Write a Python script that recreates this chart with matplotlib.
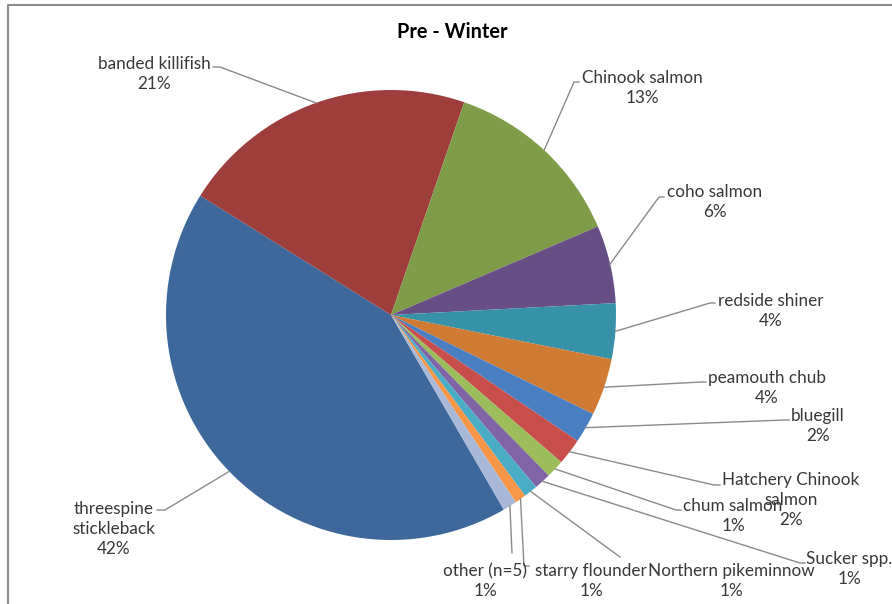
import matplotlib
matplotlib.use("Agg")
import matplotlib.pyplot as plt
import numpy as np

W, H = 892, 604

species = [
    "threespine\nstickleback", "banded killifish", "Chinook salmon", "coho salmon",
    "redside shiner", "peamouth chub", "bluegill", "Hatchery Chinook\nsalmon",
    "chum salmon", "Sucker spp.", "Northern pikeminnow", "starry flounder", "other (n=5)",
]
share = [42.3, 21.4, 13.3, 5.6, 4.0, 4.1, 2.2, 1.9, 1.3, 1.2, 1.0, 0.8, 1.0]
colors = [
    "#3E689B", "#9E3E3C", "#7F9C48", "#674F86", "#3892A7", "#D07B34",
    "#4A7EC3", "#C84E4C", "#9BBE5A", "#8064A5", "#4BACC6", "#F79646", "#A8B9D7",
]

# label layout in image pixels (x, y from top): text centre, elbow, line end
text_xy = [(114, 529), (154, 74), (642, 88), (715, 202), (771, 311), (767, 388),
           (818, 426), (791, 500), (733, 516), (849, 569), (731, 581), (591, 581), (485, 581)]
elbow_xy = [(165, 510), (220, 67), (574, 82), (659, 197), (710, 303), (701, 382),
            (785, 420), (714, 485), (676, 510), (800, 563), (620, 557), (524, 566), (512, 553)]
end_xy = [(157, 510), (213, 67), (579, 82), (664, 197), (715, 303), (706, 382),
          (789, 420), (720, 485), (681, 510), (805, 563), (620, 557), (529, 566), (512, 553)]

CX, CY, R = 391, 315, 225
FONT = ["Lato", "DejaVu Sans"]

fig = plt.figure(figsize=(W / 100, H / 100), dpi=100)
ax = fig.add_axes([0, 0, 1, 1])

wedges, _ = ax.pie(
    share, colors=colors, startangle=90 - 149.9, counterclock=False,
    center=(CX, H - CY), radius=R, wedgeprops={"linewidth": 0},
)
ax.set_xlim(0, W)
ax.set_ylim(0, H)
ax.set_aspect("equal")
ax.set_axis_off()

total = sum(share)
for w, name, v, t, e, s in zip(wedges, species, share, text_xy, elbow_xy, end_xy):
    mid = np.deg2rad((w.theta1 + w.theta2) / 2)
    ex = CX + R * np.cos(mid)
    ey = (H - CY) + R * np.sin(mid)
    ax.plot([ex, e[0], s[0]], [ey, H - e[1], H - s[1]], color="#8a8a8a", lw=1.0)
    ax.text(t[0], H - t[1], f"{name}\n{round(v / total * 100)}%", ha="center", va="center",
            fontsize=12.3, family=FONT, color="#383838", linespacing=1.3)

ax.text(452, H - 32, "Pre - Winter", ha="center", va="center", fontsize=14.3,
        fontweight="bold", family=FONT, color="#000000")

# chart area border (left and top edges visible)
ax.plot([8, 8, W], [0, H - 5, H - 5], color="#8c8c8c", lw=1.5)

fig.savefig("out.png", dpi=100)
